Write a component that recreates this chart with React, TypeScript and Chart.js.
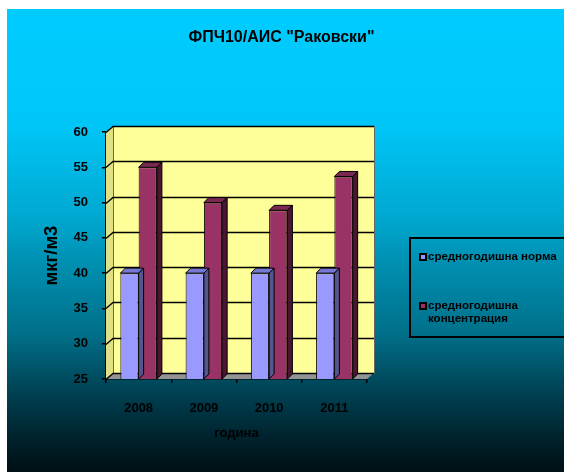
import React, { useEffect, useRef } from "react";
import { Chart, registerables } from "chart.js";

Chart.register(...registerables);

const categories = ["2008", "2009", "2010", "2011"];
const normValues = [40, 40, 40, 40];
const concValues = [55, 50, 48.9, 53.7];
const seriesLabels = ["средногодишна норма", "средногодишна концентрация"];
const yMin = 25;
const yMax = 60;
const yStep = 5;
const chartTitle = 'ФПЧ10/АИС "Раковски"';
const xTitle = "година";
const yTitle = "мкг/м3";

const FONT = "'Liberation Sans', Arial, sans-serif";
const W = 557;
const H = 463;

const WALL_DX = 7;
const WALL_DY = -6;
const BAR_DX = 5;
const BAR_DY = -5;

const faceColors: Record<string, { top: string; side: string }> = {
  "#9999FF": { top: "#7777d6", side: "#55558f" },
  "#993366": { top: "#7a2850", side: "#4a1630" },
};

const bgPlugin = {
  id: "bgGradient",
  beforeDraw(chart: any) {
    const { ctx, width, height } = chart;
    const g = ctx.createLinearGradient(0, 0, 0, height);
    g.addColorStop(0, "#00CCFF");
    g.addColorStop(0.25, "#00C6F8");
    g.addColorStop(0.45, "#00A8D0");
    g.addColorStop(0.55, "#008FB0");
    g.addColorStop(0.7, "#00708A");
    g.addColorStop(0.82, "#004456");
    g.addColorStop(0.92, "#00242F");
    g.addColorStop(1, "#000F14");
    ctx.save();
    ctx.fillStyle = g;
    ctx.fillRect(0, 0, width, height);
    ctx.restore();
  },
};

const wallsPlugin = {
  id: "walls3d",
  beforeDatasetsDraw(chart: any) {
    const { ctx, chartArea } = chart;
    const { left, right, top, bottom } = chartArea;
    const ys = chart.scales.y;
    ctx.save();
    ctx.fillStyle = "#FFFF99";
    ctx.fillRect(left + WALL_DX, top + WALL_DY, right - left, bottom - top);
    ctx.fillStyle = "#E0E084";
    ctx.beginPath();
    ctx.moveTo(left, top);
    ctx.lineTo(left + WALL_DX, top + WALL_DY);
    ctx.lineTo(left + WALL_DX, bottom + WALL_DY);
    ctx.lineTo(left, bottom);
    ctx.closePath();
    ctx.fill();
    ctx.fillStyle = "#939393";
    ctx.beginPath();
    ctx.moveTo(left, bottom);
    ctx.lineTo(left + WALL_DX, bottom + WALL_DY);
    ctx.lineTo(right + WALL_DX, bottom + WALL_DY);
    ctx.lineTo(right, bottom);
    ctx.closePath();
    ctx.fill();
    ctx.strokeStyle = "#666666";
    ctx.lineWidth = 1;
    ctx.strokeRect(left + WALL_DX + 0.5, top + WALL_DY + 0.5, right - left, bottom - top);
    ctx.strokeStyle = "#000000";
    ctx.lineWidth = 1.3;
    for (let v = yMin; v <= yMax; v += yStep) {
      const y = Math.round(ys.getPixelForValue(v)) + 0.5;
      ctx.beginPath();
      ctx.moveTo(left, y);
      ctx.lineTo(left + WALL_DX, y + WALL_DY);
      ctx.lineTo(right + WALL_DX, y + WALL_DY);
      ctx.stroke();
    }
    ctx.restore();
  },
};

const bar3dPlugin = {
  id: "bar3d",
  afterDatasetDraw(chart: any, args: any) {
    const { ctx, chartArea } = chart;
    const meta = args.meta;
    const ds = chart.data.datasets[args.index];
    const fc = faceColors[ds.backgroundColor as string];
    ctx.save();
    ctx.strokeStyle = "#000000";
    ctx.lineWidth = 1;
    meta.data.forEach((el: any) => {
      const { x, y, base, width } = el.getProps(["x", "y", "base", "width"], true);
      const b = Math.min(base, chartArea.bottom);
      const l = x - width / 2;
      const r = x + width / 2;
      ctx.fillStyle = fc.top;
      ctx.beginPath();
      ctx.moveTo(l, y);
      ctx.lineTo(l + BAR_DX, y + BAR_DY);
      ctx.lineTo(r + BAR_DX, y + BAR_DY);
      ctx.lineTo(r, y);
      ctx.closePath();
      ctx.fill();
      ctx.stroke();
      ctx.fillStyle = fc.side;
      ctx.beginPath();
      ctx.moveTo(r, y);
      ctx.lineTo(r + BAR_DX, y + BAR_DY);
      ctx.lineTo(r + BAR_DX, b + BAR_DY);
      ctx.lineTo(r, b);
      ctx.closePath();
      ctx.fill();
      ctx.stroke();
    });
    ctx.restore();
  },
};

const legendPlugin = {
  id: "customLegend",
  afterDraw(chart: any) {
    const { ctx } = chart;
    const boxX = 403;
    const boxY = 229;
    const boxW = 170;
    const boxH = 99;
    ctx.save();
    ctx.strokeStyle = "#000000";
    ctx.lineWidth = 2;
    ctx.strokeRect(boxX, boxY, boxW, boxH);
    ctx.font = `bold 11.5px ${FONT}`;
    ctx.textBaseline = "middle";
    ctx.fillStyle = "#000000";
    const itemY = [248, 297];
    const maxTextW = 135;
    chart.data.datasets.forEach((ds: any, i: number) => {
      const words = String(ds.label).split(" ");
      const lines: string[] = [];
      let cur = "";
      words.forEach((w) => {
        const t = cur ? cur + " " + w : w;
        if (ctx.measureText(t).width > maxTextW && cur) {
          lines.push(cur);
          cur = w;
        } else cur = t;
      });
      if (cur) lines.push(cur);
      const y0 = itemY[i];
      ctx.fillStyle = "#000000";
      ctx.fillRect(412, y0 - 4, 8, 8);
      ctx.fillStyle = ds.backgroundColor;
      ctx.fillRect(414, y0 - 2, 4, 4);
      ctx.fillStyle = "#000000";
      lines.forEach((ln, k) => {
        ctx.fillText(ln, 421, y0 + k * 13);
      });
    });
    ctx.restore();
  },
};

export default function App() {
  const ref = useRef<HTMLCanvasElement | null>(null);
  useEffect(() => {
    if (!ref.current) return;
    const chart = new Chart(ref.current, {
      type: "bar",
      data: {
        labels: categories,
        datasets: [
          {
            label: seriesLabels[0],
            data: normValues,
            backgroundColor: "#9999FF",
            borderColor: "#000000",
            borderWidth: 1,
            borderSkipped: "start",
          },
          {
            label: seriesLabels[1],
            data: concValues,
            backgroundColor: "#993366",
            borderColor: "#000000",
            borderWidth: 1,
            borderSkipped: "start",
          },
        ],
      },
      options: {
        animation: false,
        responsive: false,
        devicePixelRatio: 1,
        layout: { padding: { left: 33.9, right: 41.9, top: 0, bottom: 31.2 } },
        datasets: {
          bar: { barPercentage: 1, categoryPercentage: 0.56 },
        },
        plugins: {
          legend: { display: false },
          tooltip: { enabled: false },
          title: {
            display: true,
            text: chartTitle,
            color: "#000000",
            font: { family: FONT, size: 16, weight: "bold" },
            padding: { top: 19.4, bottom: 84.4 },
          },
        },
        scales: {
          x: {
            grid: {
              display: true,
              drawOnChartArea: false,
              drawTicks: true,
              tickLength: 4,
              offset: true,
              color: "#000000",
              lineWidth: 1.5,
            },
            border: { display: true, color: "#000000", width: 1.5 },
            ticks: {
              color: "#000000",
              font: { family: FONT, size: 13, weight: "bold" },
              padding: 18,
              maxRotation: 0,
            },
            title: {
              display: true,
              text: xTitle,
              color: "#000000",
              font: { family: FONT, size: 13, weight: "bold" },
              padding: { top: 0, bottom: 0 },
            },
            afterFit: (s: any) => {
              s.height = 61.8;
            },
          },
          y: {
            min: yMin,
            max: yMax,
            grid: {
              display: true,
              drawOnChartArea: false,
              drawTicks: true,
              tickLength: 4,
              color: "#000000",
              lineWidth: 1.5,
            },
            border: { display: true, color: "#000000", width: 1.5 },
            ticks: {
              stepSize: yStep,
              color: "#000000",
              font: { family: FONT, size: 13, weight: "bold" },
              padding: 14,
            },
            title: {
              display: true,
              text: yTitle,
              color: "#000000",
              font: { family: FONT, size: 18.5, weight: "bold" },
              padding: { top: 0, bottom: 0 },
            },
            afterFit: (s: any) => {
              s.width = 65.1;
            },
          },
          y2: {
            position: "right",
            display: true,
            grid: { display: false, drawTicks: false },
            border: { display: false },
            ticks: { display: false },
            afterFit: (s: any) => {
              s.width = 155.1;
            },
          },
        },
      },
      plugins: [bgPlugin, wallsPlugin, bar3dPlugin, legendPlugin],
    } as any);
    return () => chart.destroy();
  }, []);

  return (
    <div style={{ position: "absolute", left: 7, top: 9, width: W, height: H }}>
      <canvas ref={ref} width={W} height={H} style={{ display: "block", width: W, height: H }} />
    </div>
  );
}
